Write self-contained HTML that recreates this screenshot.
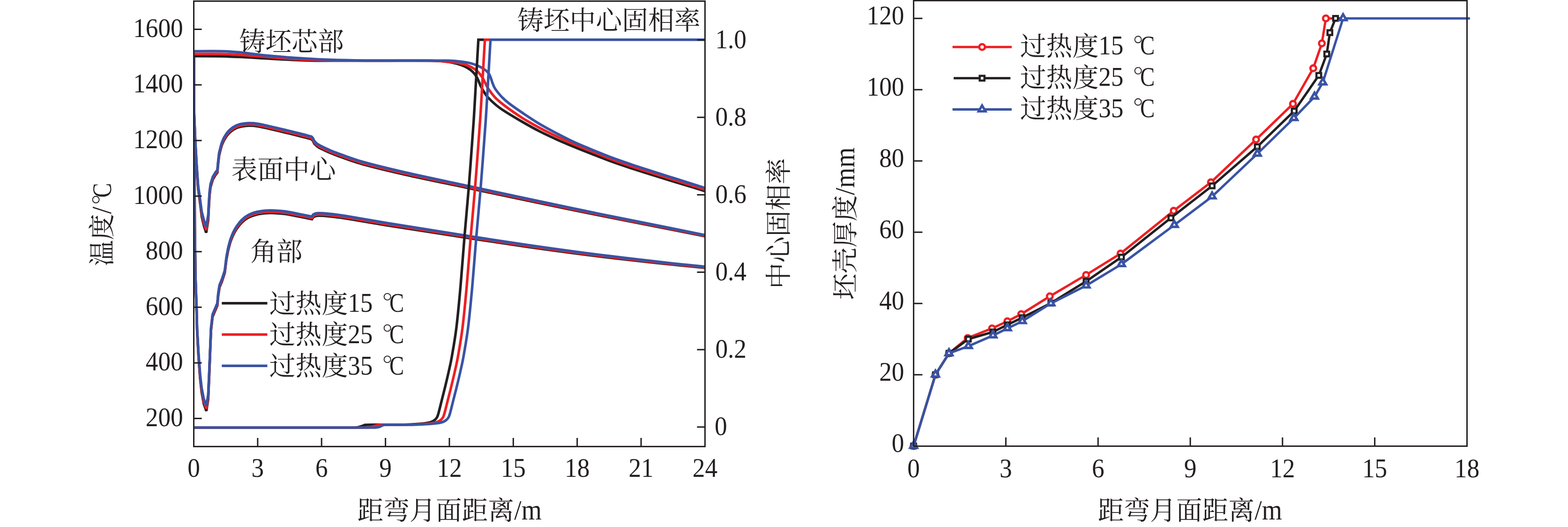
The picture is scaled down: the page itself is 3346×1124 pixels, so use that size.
<!DOCTYPE html>
<html lang="zh"><head><meta charset="utf-8"><title>chart</title>
<style>html,body{margin:0;padding:0;background:#fff}svg{display:block}text{font-family:"Liberation Serif",serif}text.cj{font-family:"Liberation Serif","Noto Serif CJK SC",serif}</style>
</head><body>
<svg width="3346" height="1124" viewBox="0 0 3346 1124">
<rect width="3346" height="1124" fill="#fff"/>
<defs>
<clipPath id="clipL"><rect x="413.5" y="2.4" width="1090.9" height="950"/></clipPath>
<g id="degc"><circle cx="15" cy="-32.1" r="7" fill="none" stroke="#231f20" stroke-width="1.9"/><text transform="translate(19.4 0) scale(0.82 1)" x="0" y="0" font-family="'Liberation Serif', serif" font-size="57" fill="#231f20">C</text></g>
</defs>
<g fill="none" stroke-linejoin="miter" stroke-miterlimit="3" stroke-linecap="butt" clip-path="url(#clipL)">
<path d="M413.6 117L413.9 245L415.2 405L415.6 485L417.2 596L419.4 659.02L420.6 705.42L423.7 761.46L427 806.78L430.3 836.54L434.9 861.25L440.3 876.5L440.3 876.5L444.3 851.4L446.7 795.48L448.9 738.92L450.3 704.41L453.6 675.71L463.8 651.61L465.6 631.2L468.4 613L473.7 600L479.6 582L483.2 553L486.7 534.9L486.7 534.9C487.65 531.43 489.9 521.03 492.4 514.1C494.9 507.17 497.83 499.85 501.7 493.3C505.57 486.75 510.98 479.62 515.6 474.8C520.22 469.98 524.02 467.28 529.4 464.4C534.78 461.52 541.73 459.12 547.9 457.5C554.07 455.88 560.23 455.2 566.4 454.7C572.57 454.2 577.97 454.23 584.9 454.5C591.83 454.77 600.3 455.3 608 456.3C615.7 457.3 623.4 459.03 631.1 460.5C638.8 461.97 648.42 463.95 654.2 465.1C659.98 466.25 663.87 467.01 665.8 467.4L665.8 467.4L668.1 463.29L672.7 460.97L672.7 460.97C673.92 460.82 675.7 460.05 680 460.05C684.3 460.05 689.25 460.06 698.5 460.98C707.75 461.9 713.92 462.23 735.5 465.55C757.08 468.87 785.47 474.14 828 480.92C870.53 487.7 941.4 498.7 990.7 506.24C1040 513.78 1076.95 519.54 1123.8 526.16C1170.65 532.78 1222.47 539.82 1271.8 545.93C1321.13 552.04 1381.03 558.59 1419.8 562.8C1458.57 567.01 1490.3 569.8 1504.4 571.2" stroke="#231f20" stroke-width="5.5"/>
<path d="M413.6 114.75L413.9 242.75L415.2 402.75L415.6 482.75L417.2 593.75L419.4 656.76L420.6 702.98L423.7 758.51L427 803.19L430.3 832.43L434.9 856.64L440.3 871.55L440.3 871.55L444.3 846.99L446.7 792.07L448.9 736.21L450.3 701.98L453.6 673.41L463.8 649.35L465.6 628.95L468.4 610.75L473.7 597.75L479.6 579.75L483.2 550.75L486.7 532.42L486.7 532.42C487.65 528.96 489.9 518.56 492.4 511.62C494.9 504.69 497.83 497.38 501.7 490.82C505.57 484.27 510.98 477.14 515.6 472.32C520.22 467.51 524.02 464.81 529.4 461.92C534.78 459.04 541.73 456.64 547.9 455.02C554.07 453.41 560.23 452.72 566.4 452.22C572.57 451.72 577.97 451.76 584.9 452.02C591.83 452.29 600.3 452.82 608 453.82C615.7 454.82 623.4 456.56 631.1 458.02C638.8 459.49 648.42 461.48 654.2 462.62C659.98 463.77 663.87 464.54 665.8 464.92L665.8 464.92L668.1 460.82L672.7 458.51L672.7 458.51C673.92 458.36 675.7 457.59 680 457.6C684.3 457.6 689.25 457.63 698.5 458.56C707.75 459.49 713.92 459.83 735.5 463.19C757.08 466.54 785.47 471.85 828 478.7C870.53 485.55 941.4 496.66 990.7 504.28C1040 511.9 1076.95 517.73 1123.8 524.42C1170.65 531.11 1222.47 538.25 1271.8 544.43C1321.13 550.62 1381.03 557.27 1419.8 561.54C1458.57 565.81 1490.3 568.65 1504.4 570.07" stroke="#ed2024" stroke-width="5.5"/>
<path d="M413.6 112L413.9 240L415.2 400L415.6 480L417.2 591L419.4 654L420.6 700L423.7 754.9L427 798.8L430.3 827.4L434.9 851L440.3 865.5L440.3 865.5L444.3 841.6L446.7 787.9L448.9 732.9L450.3 699L453.6 670.6L463.8 646.6L465.6 626.2L468.4 608L473.7 595L479.6 577L483.2 548L486.7 529.4L486.7 529.4C487.65 525.93 489.9 515.53 492.4 508.6C494.9 501.67 497.83 494.35 501.7 487.8C505.57 481.25 510.98 474.12 515.6 469.3C520.22 464.48 524.02 461.78 529.4 458.9C534.78 456.02 541.73 453.62 547.9 452C554.07 450.38 560.23 449.7 566.4 449.2C572.57 448.7 577.97 448.73 584.9 449C591.83 449.27 600.3 449.8 608 450.8C615.7 451.8 623.4 453.53 631.1 455C638.8 456.47 648.42 458.45 654.2 459.6C659.98 460.75 663.87 461.52 665.8 461.9L665.8 461.9L668.1 457.8L672.7 455.5L672.7 455.5C673.92 455.35 675.7 454.58 680 454.6C684.3 454.62 689.25 454.65 698.5 455.6C707.75 456.55 713.92 456.9 735.5 460.3C757.08 463.7 785.47 469.07 828 476C870.53 482.93 941.4 494.18 990.7 501.9C1040 509.62 1076.95 515.52 1123.8 522.3C1170.65 529.08 1222.47 536.32 1271.8 542.6C1321.13 548.88 1381.03 555.65 1419.8 560C1458.57 564.35 1490.3 567.25 1504.4 568.7" stroke="#3953a4" stroke-width="5.5"/>
<path d="M413.6 117L413.7 185L414.3 245L416.7 304L419.6 356.15L422.8 402.48L427.4 436.59L430.5 461.95L435.2 481.66L440 496.4L440 496.4L444.3 469.66L445.9 436.59L447.3 415.7L449.2 399.25L454.1 382.96L460 372.77L464 367.76L464.9 354.83L467.5 332L467.5 332C468.58 327.98 471.38 314.8 474 307.9C476.62 301 480.13 295.15 483.2 290.6C486.27 286.05 488.93 283.5 492.4 280.6C495.87 277.7 500.13 275 504 273.2C507.87 271.4 510.98 270.65 515.6 269.8C520.22 268.95 525.93 268.15 531.7 268.1C537.47 268.05 543.27 268.45 550.2 269.5C557.13 270.55 563.67 272.23 573.3 274.4C582.93 276.57 596.43 279.73 608 282.5C619.57 285.27 633.27 288.62 642.7 291C652.13 293.38 660.95 295.83 664.6 296.8L664.6 296.8L667.6 299.79L670.4 305.98L670.4 305.98C671.55 307.06 674.22 310.3 677.3 312.46C680.38 314.61 685.12 316.99 688.9 318.91C692.68 320.83 695.32 321.99 700 323.97C704.68 325.96 704.92 326.51 717 330.81C729.08 335.12 747.85 342.87 772.5 349.82C797.15 356.76 827.3 363.99 864.9 372.49C902.5 380.98 954.95 391.66 998.1 400.81C1041.25 409.95 1078.18 417.84 1123.8 427.36C1169.42 436.88 1222.47 447.99 1271.8 457.93C1321.13 467.87 1381.03 479.34 1419.8 487C1458.57 494.66 1490.3 501.08 1504.4 503.9" stroke="#231f20" stroke-width="5.5"/>
<path d="M413.6 114.75L413.7 182.75L414.3 242.75L416.7 301.75L419.6 353.83L422.8 399.56L427.4 432.86L430.5 457.43L435.2 476.41L440 490.55L440 490.55L444.3 464.86L445.9 432.86L447.3 412.51L449.2 396.39L454.1 380.37L460 370.31L464 365.35L464.9 352.52L467.5 329.52L467.5 329.52C468.58 325.51 471.38 312.32 474 305.42C476.62 298.52 480.13 292.68 483.2 288.12C486.27 283.57 488.93 281.02 492.4 278.12C495.87 275.23 500.13 272.52 504 270.72C507.87 268.92 510.98 268.17 515.6 267.32C520.22 266.48 525.93 265.68 531.7 265.62C537.47 265.57 543.27 265.97 550.2 267.02C557.13 268.07 563.67 269.76 573.3 271.92C582.93 274.09 596.43 277.26 608 280.02C619.57 282.79 633.27 286.14 642.7 288.52C652.13 290.91 660.95 293.36 664.6 294.32L664.6 294.32L667.6 297.32L670.4 303.51L670.4 303.51C671.55 304.6 674.22 307.84 677.3 310C680.38 312.16 685.12 314.55 688.9 316.48C692.68 318.4 695.32 319.57 700 321.56C704.68 323.55 704.92 324.1 717 328.42C729.08 332.75 747.85 340.53 772.5 347.51C797.15 354.5 827.3 361.77 864.9 370.33C902.5 378.89 954.95 389.65 998.1 398.87C1041.25 408.09 1078.18 416.03 1123.8 425.62C1169.42 435.22 1222.47 446.41 1271.8 456.43C1321.13 466.45 1381.03 478.02 1419.8 485.74C1458.57 493.46 1490.3 499.94 1504.4 502.77" stroke="#ed2024" stroke-width="5.5"/>
<path d="M413.6 112L413.7 180L414.3 240L416.7 299L419.6 351L422.8 396L427.4 428.3L430.5 451.9L435.2 470L440 483.4L440 483.4L444.3 459L445.9 428.3L447.3 408.6L449.2 392.9L454.1 377.2L460 367.3L464 362.4L464.9 349.7L467.5 326.5L467.5 326.5C468.58 322.48 471.38 309.3 474 302.4C476.62 295.5 480.13 289.65 483.2 285.1C486.27 280.55 488.93 278 492.4 275.1C495.87 272.2 500.13 269.5 504 267.7C507.87 265.9 510.98 265.15 515.6 264.3C520.22 263.45 525.93 262.65 531.7 262.6C537.47 262.55 543.27 262.95 550.2 264C557.13 265.05 563.67 266.73 573.3 268.9C582.93 271.07 596.43 274.23 608 277C619.57 279.77 633.27 283.12 642.7 285.5C652.13 287.88 660.95 290.33 664.6 291.3L664.6 291.3L667.6 294.3L670.4 300.5L670.4 300.5C671.55 301.58 674.22 304.83 677.3 307C680.38 309.17 685.12 311.57 688.9 313.5C692.68 315.43 695.32 316.6 700 318.6C704.68 320.6 704.92 321.15 717 325.5C729.08 329.85 747.85 337.67 772.5 344.7C797.15 351.73 827.3 359.07 864.9 367.7C902.5 376.33 954.95 387.2 998.1 396.5C1041.25 405.8 1078.18 413.82 1123.8 423.5C1169.42 433.18 1222.47 444.48 1271.8 454.6C1321.13 464.72 1381.03 476.4 1419.8 484.2C1458.57 492 1490.3 498.53 1504.4 501.4" stroke="#3953a4" stroke-width="5.5"/>
<path d="M410 119.8C422.32 119.9 461.1 119.78 483.9 120.4C506.7 121.02 525.85 122.38 546.8 123.5C567.75 124.62 588.65 126.12 609.6 127.1C630.55 128.08 637.55 129 672.5 129.4C707.45 129.8 778.05 129.47 819.3 129.5C860.55 129.53 898.6 129.35 920 129.6C941.4 129.85 940 130.3 947.7 131C955.4 131.7 960.03 132.5 966.2 133.8C972.37 135.1 979.45 136.95 984.7 138.8C989.95 140.65 993.68 142.5 997.7 144.9C1001.72 147.3 1005.72 150.27 1008.8 153.2C1011.88 156.13 1014.2 159.42 1016.2 162.5C1018.2 165.58 1019.27 168.32 1020.8 171.7C1022.33 175.08 1023.7 179.25 1025.4 182.8C1027.1 186.35 1028.53 189.05 1031 193C1033.47 196.95 1035.62 201.33 1040.2 206.5C1044.78 211.67 1052.37 218.87 1058.5 224C1064.63 229.13 1067.75 231.38 1077 237.3C1086.25 243.22 1101.67 252.4 1114 259.5C1126.33 266.6 1138.67 273.58 1151 279.9C1163.33 286.22 1175.67 291.85 1188 297.4C1200.33 302.95 1212.67 308.1 1225 313.2C1237.33 318.3 1248.7 322.78 1262 328C1275.3 333.22 1290.72 339.38 1304.8 344.5C1318.88 349.62 1332.62 354.12 1346.5 358.7C1360.38 363.28 1374.23 367.65 1388.1 372C1401.97 376.35 1415.83 380.57 1429.7 384.8C1443.57 389.03 1458.85 393.6 1471.3 397.4C1483.75 401.2 1498.88 405.9 1504.4 407.6" stroke="#231f20" stroke-width="5.5"/>
<path d="M410 115.2C420.57 115.2 454.1 114.75 473.4 115.2C492.7 115.65 506.58 116.58 525.8 117.9C545.02 119.22 567.73 121.53 588.7 123.1C609.67 124.67 630.63 126.28 651.6 127.3C672.57 128.32 686.55 128.85 714.5 129.2C742.45 129.55 785.05 129.35 819.3 129.4C853.55 129.45 897.05 129.07 920 129.5C942.95 129.93 947.75 131.28 957 132C966.25 132.72 969.33 132.78 975.5 133.8C981.67 134.82 988.45 136.25 994 138.1C999.55 139.95 1004.48 142.38 1008.8 144.9C1013.12 147.42 1016.67 150.12 1019.9 153.2C1023.13 156.28 1025.73 159.7 1028.2 163.4C1030.67 167.1 1032.7 171.55 1034.7 175.4C1036.7 179.25 1037.73 182.48 1040.2 186.5C1042.67 190.52 1046.45 195.58 1049.5 199.5C1052.55 203.42 1053.92 205.67 1058.5 210C1063.08 214.33 1067.75 218.63 1077 225.5C1086.25 232.37 1101.67 243.37 1114 251.2C1126.33 259.03 1138.67 265.87 1151 272.5C1163.33 279.13 1175.67 285.15 1188 291C1200.33 296.85 1212.67 302.37 1225 307.6C1237.33 312.83 1248.7 317.05 1262 322.4C1275.3 327.75 1290.72 334.38 1304.8 339.7C1318.88 345.02 1332.62 349.62 1346.5 354.3C1360.38 358.98 1374.23 363.35 1388.1 367.8C1401.97 372.25 1415.83 376.65 1429.7 381C1443.57 385.35 1458.85 390 1471.3 393.9C1483.75 397.8 1498.88 402.65 1504.4 404.4" stroke="#ed2024" stroke-width="5.5"/>
<path d="M410 109.3C420.57 109.3 455.85 108.85 473.4 109.3C490.95 109.75 499.58 110.5 515.3 112C531.02 113.5 548.48 116.38 567.7 118.3C586.92 120.22 609.63 122.03 630.6 123.5C651.57 124.97 672.53 126.22 693.5 127.1C714.47 127.98 735.43 128.45 756.4 128.8C777.37 129.15 792.03 129.12 819.3 129.2C846.57 129.28 897.05 129.28 920 129.3C942.95 129.32 946.22 128.95 957 129.3C967.78 129.65 977 130.5 984.7 131.4C992.4 132.3 997.03 133.07 1003.2 134.7C1009.37 136.33 1016.45 138.88 1021.7 141.2C1026.95 143.52 1031.15 145.98 1034.7 148.6C1038.25 151.22 1041 154.28 1043 156.9C1045 159.52 1045.47 161.22 1046.7 164.3C1047.93 167.38 1049.02 171.68 1050.4 175.4C1051.78 179.12 1053.3 183.35 1055 186.6C1056.7 189.85 1057.82 191.37 1060.6 194.9C1063.38 198.43 1067.38 203.48 1071.7 207.8C1076.02 212.12 1079.45 215.42 1086.5 220.8C1093.55 226.18 1103.25 232.87 1114 240.1C1124.75 247.33 1138.67 256.8 1151 264.2C1163.33 271.6 1175.67 278.03 1188 284.5C1200.33 290.97 1212.67 297.3 1225 303C1237.33 308.7 1248.7 313.22 1262 318.7C1275.3 324.18 1290.72 330.6 1304.8 335.9C1318.88 341.2 1332.62 345.82 1346.5 350.5C1360.38 355.18 1374.23 359.53 1388.1 364C1401.97 368.47 1415.83 372.92 1429.7 377.3C1443.57 381.68 1458.85 386.35 1471.3 390.3C1483.75 394.25 1498.88 399.22 1504.4 401" stroke="#3953a4" stroke-width="5.5"/>
<path d="M413.5 912.1C470.92 912.1 700.58 912.1 758 912.1L758 912.1C759.5 911.82 763.83 911.22 767 910.4C770.17 909.58 773.83 907.95 777 907.2C780.17 906.45 773 906.12 786 905.9C799 905.68 843.5 905.9 855 905.9L860 905.8C863.27 905.67 872.07 905.47 879.6 905C887.13 904.53 898.65 903.75 905.2 903C911.75 902.25 915.3 901.58 918.9 900.5C922.5 899.42 924.5 898.3 926.8 896.5C929.1 894.7 931.07 892.8 932.7 889.7C934.33 886.6 934.97 883.8 936.6 877.9C938.23 872 940.2 863.47 942.5 854.3C944.8 845.13 947.78 833.7 950.4 822.9C953.02 812.1 955.88 799.98 958.2 789.5C960.52 779.02 961.68 775.12 964.3 760C966.92 744.88 970.83 723.65 973.9 698.8C976.97 673.95 979.77 643.87 982.7 610.9C985.63 577.93 988.57 536.15 991.5 501C994.43 465.85 997.35 436.83 1000.3 400C1003.25 363.17 1007.17 308.33 1009.2 280C1011.23 251.67 1010.57 262.55 1012.5 230C1014.43 197.45 1019.42 108.92 1020.8 84.7L1020.8 84.7L1036.7 84.7" stroke="#231f20" stroke-width="5.5"/>
<path d="M413.5 912.1C475.25 912.1 722.25 912.1 784 912.1L784 912.1C785.5 911.82 789.67 911.22 793 910.4C796.33 909.58 800.67 907.95 804 907.2C807.33 906.45 802.37 906.12 813 905.9C823.63 905.68 858.67 905.9 867.8 905.9L872.8 905.8C876.07 905.67 884.87 905.47 892.4 905C899.94 904.53 911.45 903.75 918 903C924.55 902.25 928.11 901.58 931.71 900.5C935.31 899.42 937.31 898.3 939.61 896.5C941.91 894.7 943.88 892.8 945.52 889.7C947.16 886.6 947.8 883.8 949.44 877.9C951.08 872 953.06 863.47 955.37 854.3C957.68 845.13 960.68 833.7 963.31 822.9C965.94 812.1 968.83 799.98 971.16 789.5C973.49 779.02 974.66 775.12 977.3 760C979.93 744.88 983.88 723.65 986.98 698.8C990.08 673.95 992.92 643.87 995.9 610.9C998.87 577.93 1001.86 536.15 1004.84 501C1007.82 465.85 1010.78 436.83 1013.78 400C1016.78 363.17 1020.77 308.33 1022.84 280C1024.91 251.67 1024.23 262.55 1026.21 230C1028.18 197.45 1033.28 108.92 1034.7 84.7L1034.7 84.7L1048.7 84.7" stroke="#ed2024" stroke-width="5.5"/>
<path d="M413.5 912.1C478.08 912.1 736.42 912.1 801 912.1L801 912.1C802.5 911.82 807.33 911.22 810 910.4C812.67 909.58 814.33 907.95 817 907.2C819.67 906.45 815.57 906.12 826 905.9C836.43 905.68 870.67 905.9 879.6 905.9L884.6 905.8C887.87 905.67 896.67 905.47 904.2 905C911.74 904.53 923.25 903.75 929.8 903C936.36 902.25 939.91 901.58 943.51 900.5C947.11 899.42 949.11 898.3 951.41 896.5C953.72 894.7 955.69 892.8 957.33 889.7C958.96 886.6 959.6 883.8 961.24 877.9C962.89 872 964.87 863.47 967.18 854.3C969.5 845.13 972.5 833.7 975.13 822.9C977.77 812.1 980.65 799.98 982.98 789.5C985.32 779.02 986.49 775.12 989.13 760C991.77 744.88 995.72 723.65 998.83 698.8C1001.93 673.95 1004.78 643.87 1007.77 610.9C1010.75 577.93 1013.75 536.15 1016.74 501C1019.73 465.85 1022.69 436.83 1025.7 400C1028.71 363.17 1032.71 308.33 1034.79 280C1036.87 251.67 1036.19 262.55 1038.17 230C1040.15 197.45 1045.28 108.92 1046.7 84.7L1046.7 84.7L1504.4 84.7" stroke="#3953a4" stroke-width="5.5"/>
</g>
<g stroke="#231f20" stroke-width="3.0" fill="none" stroke-linecap="butt">
<rect x="413.5" y="2.4" width="1090.9" height="950"/>
<path d="M413.5 892.5h17.0M413.5 773.93h17.0M413.5 655.36h17.0M413.5 536.79h17.0M413.5 418.21h17.0M413.5 299.64h17.0M413.5 181.07h17.0M413.5 62.5h17.0M1504.4 910.8h-17.0M1504.4 745.68h-17.0M1504.4 580.56h-17.0M1504.4 415.44h-17.0M1504.4 250.32h-17.0M1504.4 85.2h-17.0M549.86 952.4v-18.5M686.22 952.4v-18.5M822.59 952.4v-18.5M958.95 952.4v-18.5M1095.31 952.4v-18.5M1231.67 952.4v-18.5M1368.03 952.4v-18.5"/>
</g>
<g fill="#231f20" font-family="'Liberation Serif', serif" font-size="57.4">
<text transform="translate(390.6 908.9) scale(0.9275 1)" text-anchor="end">200</text>
<text transform="translate(390.6 790.33) scale(0.9275 1)" text-anchor="end">400</text>
<text transform="translate(390.6 671.76) scale(0.9275 1)" text-anchor="end">600</text>
<text transform="translate(390.6 553.19) scale(0.9275 1)" text-anchor="end">800</text>
<text transform="translate(390.6 434.61) scale(0.9275 1)" text-anchor="end">1000</text>
<text transform="translate(390.6 316.04) scale(0.9275 1)" text-anchor="end">1200</text>
<text transform="translate(390.6 197.47) scale(0.9275 1)" text-anchor="end">1400</text>
<text transform="translate(390.6 78.9) scale(0.9275 1)" text-anchor="end">1600</text>
<text transform="translate(1524.9 928.3) scale(0.9275 1)">0</text>
<text transform="translate(1526.4 763.18) scale(0.9275 1)">0.2</text>
<text transform="translate(1526.4 598.06) scale(0.9275 1)">0.4</text>
<text transform="translate(1526.4 432.94) scale(0.9275 1)">0.6</text>
<text transform="translate(1526.4 267.82) scale(0.9275 1)">0.8</text>
<text transform="translate(1526.4 102.7) scale(0.9275 1)">1.0</text>
<text transform="translate(413.5 1017.3) scale(0.9275 1)" text-anchor="middle">0</text>
<text transform="translate(549.86 1017.3) scale(0.9275 1)" text-anchor="middle">3</text>
<text transform="translate(686.22 1017.3) scale(0.9275 1)" text-anchor="middle">6</text>
<text transform="translate(822.59 1017.3) scale(0.9275 1)" text-anchor="middle">9</text>
<text transform="translate(958.95 1017.3) scale(0.9275 1)" text-anchor="middle">12</text>
<text transform="translate(1095.31 1017.3) scale(0.9275 1)" text-anchor="middle">15</text>
<text transform="translate(1231.67 1017.3) scale(0.9275 1)" text-anchor="middle">18</text>
<text transform="translate(1368.03 1017.3) scale(0.9275 1)" text-anchor="middle">21</text>
<text transform="translate(1504.4 1017.3) scale(0.9275 1)" text-anchor="middle">24</text>
<text class="cj" x="762.4" y="1107.5" font-size="55.8">距弯月面距离</text>
<text transform="translate(1097.2 1107.5) scale(0.945 1)" font-size="58.7">/</text>
<text transform="translate(1112.63 1107.5) scale(0.91 1)" font-size="61.0">m</text>
<g transform="translate(236.7 476.4) rotate(-90)"><text class="cj" x="-91.41" y="0" font-size="55.8">温度</text>
<text transform="translate(20.19 0) scale(0.945 1)" font-size="58.7">/</text>
<use href="#degc" x="35.61" y="0"/></g>
<g transform="translate(1681 476.6) rotate(-90)"><text class="cj" x="-139.5" y="0" font-size="55.8">中心固相率</text></g>
<text class="cj" x="510.5" y="107.6" font-size="55.8">铸坯芯部</text>
<text class="cj" x="1104" y="63.3" font-size="55.8">铸坯中心固相率</text>
<text class="cj" x="493.5" y="381" font-size="55.8">表面中心</text>
<text class="cj" x="534" y="555.6" font-size="55.8">角部</text>
<path d="M473.3 646.8H570.5" stroke="#231f20" stroke-width="5.5" fill="none"/>
<text class="cj" x="574.8" y="666.5" font-size="55.8">过热度</text>
<text transform="translate(742.2 665) scale(0.9275 1)">15 </text>
<use href="#degc" x="811.6" y="665"/>
<path d="M473.3 713.55H570.5" stroke="#ed2024" stroke-width="5.5" fill="none"/>
<text class="cj" x="574.8" y="733.25" font-size="55.8">过热度</text>
<text transform="translate(742.2 731.75) scale(0.9275 1)">25 </text>
<use href="#degc" x="811.6" y="731.75"/>
<path d="M473.3 780.3H570.5" stroke="#3953a4" stroke-width="5.5" fill="none"/>
<text class="cj" x="574.8" y="800" font-size="55.8">过热度</text>
<text transform="translate(742.2 798.5) scale(0.9275 1)">35 </text>
<use href="#degc" x="811.6" y="798.5"/>
<g fill="none" stroke-linejoin="round">
<path d="M1949.6 951.2L1996.18 799.2L2025.04 753.6L2065.06 720.92L2116.88 700.4L2149.68 685.2L2179.2 670L2240.21 632L2317.62 586.4L2391.09 540.8L2504.58 449.6L2583.95 388.8L2680.38 297.6L2759.1 221.6L2802.4 145.6L2820.77 92.4L2829.3 39.2H2848.98" stroke="#ed2024" stroke-width="5.1"/>
<circle cx="1949.6" cy="951.2" r="6.07" stroke="#ed2024" stroke-width="4.85" fill="#fff"/>
<circle cx="1996.18" cy="799.2" r="6.07" stroke="#ed2024" stroke-width="4.85" fill="#fff"/>
<circle cx="2025.04" cy="753.6" r="6.07" stroke="#ed2024" stroke-width="4.85" fill="#fff"/>
<circle cx="2065.06" cy="720.92" r="6.07" stroke="#ed2024" stroke-width="4.85" fill="#fff"/>
<circle cx="2116.88" cy="700.4" r="6.07" stroke="#ed2024" stroke-width="4.85" fill="#fff"/>
<circle cx="2149.68" cy="685.2" r="6.07" stroke="#ed2024" stroke-width="4.85" fill="#fff"/>
<circle cx="2179.2" cy="670" r="6.07" stroke="#ed2024" stroke-width="4.85" fill="#fff"/>
<circle cx="2240.21" cy="632" r="6.07" stroke="#ed2024" stroke-width="4.85" fill="#fff"/>
<circle cx="2317.62" cy="586.4" r="6.07" stroke="#ed2024" stroke-width="4.85" fill="#fff"/>
<circle cx="2391.09" cy="540.8" r="6.07" stroke="#ed2024" stroke-width="4.85" fill="#fff"/>
<circle cx="2504.58" cy="449.6" r="6.07" stroke="#ed2024" stroke-width="4.85" fill="#fff"/>
<circle cx="2583.95" cy="388.8" r="6.07" stroke="#ed2024" stroke-width="4.85" fill="#fff"/>
<circle cx="2680.38" cy="297.6" r="6.07" stroke="#ed2024" stroke-width="4.85" fill="#fff"/>
<circle cx="2759.1" cy="221.6" r="6.07" stroke="#ed2024" stroke-width="4.85" fill="#fff"/>
<circle cx="2802.4" cy="145.6" r="6.07" stroke="#ed2024" stroke-width="4.85" fill="#fff"/>
<circle cx="2820.77" cy="92.4" r="6.07" stroke="#ed2024" stroke-width="4.85" fill="#fff"/>
<circle cx="2829.3" cy="39.2" r="6.07" stroke="#ed2024" stroke-width="4.85" fill="#fff"/>
<path d="M1949.6 951.2L1996.18 799.2L2025.04 753.6L2066.37 723.2L2118.85 708L2149.68 692.8L2181.17 677.6L2242.5 646.44L2317.62 600.08L2393.06 548.4L2498.67 464.8L2586.58 396.4L2683.01 312.8L2761.73 236.8L2814.21 160.8L2831.26 115.2L2837.82 69.6L2849.96 39.2H2866.03" stroke="#231f20" stroke-width="5.1"/>
<rect x="1944.57" y="946.17" width="10.05" height="10.05" stroke="#231f20" stroke-width="4.55" fill="#fff" stroke-linejoin="miter"/>
<rect x="1991.15" y="794.17" width="10.05" height="10.05" stroke="#231f20" stroke-width="4.55" fill="#fff" stroke-linejoin="miter"/>
<rect x="2020.01" y="748.57" width="10.05" height="10.05" stroke="#231f20" stroke-width="4.55" fill="#fff" stroke-linejoin="miter"/>
<rect x="2061.34" y="718.17" width="10.05" height="10.05" stroke="#231f20" stroke-width="4.55" fill="#fff" stroke-linejoin="miter"/>
<rect x="2113.82" y="702.97" width="10.05" height="10.05" stroke="#231f20" stroke-width="4.55" fill="#fff" stroke-linejoin="miter"/>
<rect x="2144.65" y="687.77" width="10.05" height="10.05" stroke="#231f20" stroke-width="4.55" fill="#fff" stroke-linejoin="miter"/>
<rect x="2176.14" y="672.57" width="10.05" height="10.05" stroke="#231f20" stroke-width="4.55" fill="#fff" stroke-linejoin="miter"/>
<rect x="2237.47" y="641.41" width="10.05" height="10.05" stroke="#231f20" stroke-width="4.55" fill="#fff" stroke-linejoin="miter"/>
<rect x="2312.59" y="595.05" width="10.05" height="10.05" stroke="#231f20" stroke-width="4.55" fill="#fff" stroke-linejoin="miter"/>
<rect x="2388.03" y="543.37" width="10.05" height="10.05" stroke="#231f20" stroke-width="4.55" fill="#fff" stroke-linejoin="miter"/>
<rect x="2493.64" y="459.77" width="10.05" height="10.05" stroke="#231f20" stroke-width="4.55" fill="#fff" stroke-linejoin="miter"/>
<rect x="2581.55" y="391.37" width="10.05" height="10.05" stroke="#231f20" stroke-width="4.55" fill="#fff" stroke-linejoin="miter"/>
<rect x="2677.98" y="307.77" width="10.05" height="10.05" stroke="#231f20" stroke-width="4.55" fill="#fff" stroke-linejoin="miter"/>
<rect x="2756.7" y="231.77" width="10.05" height="10.05" stroke="#231f20" stroke-width="4.55" fill="#fff" stroke-linejoin="miter"/>
<rect x="2809.18" y="155.77" width="10.05" height="10.05" stroke="#231f20" stroke-width="4.55" fill="#fff" stroke-linejoin="miter"/>
<rect x="2826.23" y="110.17" width="10.05" height="10.05" stroke="#231f20" stroke-width="4.55" fill="#fff" stroke-linejoin="miter"/>
<rect x="2832.79" y="64.57" width="10.05" height="10.05" stroke="#231f20" stroke-width="4.55" fill="#fff" stroke-linejoin="miter"/>
<rect x="2844.93" y="34.17" width="10.05" height="10.05" stroke="#231f20" stroke-width="4.55" fill="#fff" stroke-linejoin="miter"/>
<path d="M1949.6 951.2L1996.18 799.2L2025.04 753.6L2066.37 738.4L2118.85 715.6L2149.68 700.4L2181.5 685.2L2242.5 647.2L2317.62 609.2L2393.06 563.6L2505.89 480L2586.58 419.2L2683.01 328L2761.07 252L2805.02 206.4L2822.74 176L2866.03 39.2H3136.8" stroke="#3953a4" stroke-width="5.1"/>
<path d="M1949.6 942.43L1956.85 954.98H1942.35Z" stroke="#3953a4" stroke-width="5.2" fill="#fff" stroke-linejoin="miter"/>
<path d="M1996.18 790.43L2003.43 802.98H1988.93Z" stroke="#3953a4" stroke-width="5.2" fill="#fff" stroke-linejoin="miter"/>
<path d="M2025.04 744.83L2032.29 757.38H2017.79Z" stroke="#3953a4" stroke-width="5.2" fill="#fff" stroke-linejoin="miter"/>
<path d="M2066.37 729.63L2073.62 742.18H2059.12Z" stroke="#3953a4" stroke-width="5.2" fill="#fff" stroke-linejoin="miter"/>
<path d="M2118.85 706.83L2126.1 719.38H2111.6Z" stroke="#3953a4" stroke-width="5.2" fill="#fff" stroke-linejoin="miter"/>
<path d="M2149.68 691.63L2156.93 704.18H2142.43Z" stroke="#3953a4" stroke-width="5.2" fill="#fff" stroke-linejoin="miter"/>
<path d="M2181.5 676.43L2188.75 688.98H2174.25Z" stroke="#3953a4" stroke-width="5.2" fill="#fff" stroke-linejoin="miter"/>
<path d="M2242.5 638.43L2249.75 650.98H2235.25Z" stroke="#3953a4" stroke-width="5.2" fill="#fff" stroke-linejoin="miter"/>
<path d="M2317.62 600.43L2324.87 612.98H2310.37Z" stroke="#3953a4" stroke-width="5.2" fill="#fff" stroke-linejoin="miter"/>
<path d="M2393.06 554.83L2400.31 567.38H2385.81Z" stroke="#3953a4" stroke-width="5.2" fill="#fff" stroke-linejoin="miter"/>
<path d="M2505.89 471.23L2513.14 483.78H2498.64Z" stroke="#3953a4" stroke-width="5.2" fill="#fff" stroke-linejoin="miter"/>
<path d="M2586.58 410.43L2593.83 422.98H2579.33Z" stroke="#3953a4" stroke-width="5.2" fill="#fff" stroke-linejoin="miter"/>
<path d="M2683.01 319.23L2690.26 331.78H2675.76Z" stroke="#3953a4" stroke-width="5.2" fill="#fff" stroke-linejoin="miter"/>
<path d="M2761.07 243.23L2768.32 255.78H2753.82Z" stroke="#3953a4" stroke-width="5.2" fill="#fff" stroke-linejoin="miter"/>
<path d="M2805.02 197.63L2812.27 210.18H2797.77Z" stroke="#3953a4" stroke-width="5.2" fill="#fff" stroke-linejoin="miter"/>
<path d="M2822.74 167.23L2829.99 179.78H2815.49Z" stroke="#3953a4" stroke-width="5.2" fill="#fff" stroke-linejoin="miter"/>
<path d="M2866.03 30.43L2873.28 42.98H2858.78Z" stroke="#3953a4" stroke-width="5.2" fill="#fff" stroke-linejoin="miter"/>
</g>
<g stroke="#231f20" stroke-width="3.0" fill="none">
<rect x="1949.6" y="1.3" width="1180.9" height="950.3"/>
<path d="M1949.6 799.2h18.8M1949.6 647.2h18.8M1949.6 495.2h18.8M1949.6 343.2h18.8M1949.6 191.2h18.8M1949.6 39.2h18.8M2146.4 951.6v-18.5M2343.2 951.6v-18.5M2540 951.6v-18.5M2736.8 951.6v-18.5M2933.6 951.6v-18.5"/>
</g>
<text transform="translate(1929.4 964.3) scale(0.9275 1)" text-anchor="end">0</text>
<text transform="translate(1929.4 812.3) scale(0.9275 1)" text-anchor="end">20</text>
<text transform="translate(1929.4 660.3) scale(0.9275 1)" text-anchor="end">40</text>
<text transform="translate(1929.4 508.3) scale(0.9275 1)" text-anchor="end">60</text>
<text transform="translate(1929.4 356.3) scale(0.9275 1)" text-anchor="end">80</text>
<text transform="translate(1929.4 204.3) scale(0.9275 1)" text-anchor="end">100</text>
<text transform="translate(1929.4 52.3) scale(0.9275 1)" text-anchor="end">120</text>
<text transform="translate(1949.6 1018) scale(0.9275 1)" text-anchor="middle">0</text>
<text transform="translate(2146.4 1018) scale(0.9275 1)" text-anchor="middle">3</text>
<text transform="translate(2343.2 1018) scale(0.9275 1)" text-anchor="middle">6</text>
<text transform="translate(2540 1018) scale(0.9275 1)" text-anchor="middle">9</text>
<text transform="translate(2736.8 1018) scale(0.9275 1)" text-anchor="middle">12</text>
<text transform="translate(2933.6 1018) scale(0.9275 1)" text-anchor="middle">15</text>
<text transform="translate(3130.4 1018) scale(0.9275 1)" text-anchor="middle">18</text>
<text class="cj" x="2342.4" y="1107.5" font-size="55.8">距弯月面距离</text>
<text transform="translate(2677.2 1107.5) scale(0.945 1)" font-size="58.7">/</text>
<text transform="translate(2692.63 1107.5) scale(0.91 1)" font-size="61.0">m</text>
<g transform="translate(1823.4 476.8) rotate(-90)"><text class="cj" x="-162.49" y="0" font-size="55.8">坯壳厚度</text>
<text transform="translate(60.71 0) scale(0.945 1)" font-size="58.7">/</text>
<text transform="translate(76.14 0) scale(0.91 1)" font-size="61.0">m</text>
<text transform="translate(119.31 0) scale(0.91 1)" font-size="61.0">m</text></g>
<path d="M2032.6 100.2H2158.9" stroke="#ed2024" stroke-width="5.1" fill="none"/>
<circle cx="2095.7" cy="100.2" r="6.07" stroke="#ed2024" stroke-width="4.85" fill="#fff"/>
<text class="cj" x="2176.8" y="117.9" font-size="55.8">过热度</text>
<text transform="translate(2344.2 116.4) scale(0.9275 1)">15 </text>
<use href="#degc" x="2413.6" y="116.4"/>
<path d="M2035.0 166.8H2156.2" stroke="#231f20" stroke-width="5.1" fill="none"/>
<rect x="2090.67" y="161.77" width="10.05" height="10.05" stroke="#231f20" stroke-width="4.55" fill="#fff" stroke-linejoin="miter"/>
<text class="cj" x="2176.8" y="184.5" font-size="55.8">过热度</text>
<text transform="translate(2344.2 183) scale(0.9275 1)">25 </text>
<use href="#degc" x="2413.6" y="183"/>
<path d="M2032.6 233.4H2158.9" stroke="#3953a4" stroke-width="5.1" fill="none"/>
<path d="M2095.7 224.93L2102.95 237.48H2088.45Z" stroke="#3953a4" stroke-width="5.2" fill="#fff" stroke-linejoin="miter"/>
<text class="cj" x="2176.8" y="251.1" font-size="55.8">过热度</text>
<text transform="translate(2344.2 249.6) scale(0.9275 1)">35 </text>
<use href="#degc" x="2413.6" y="249.6"/>
</g>
</svg>
</body></html>
